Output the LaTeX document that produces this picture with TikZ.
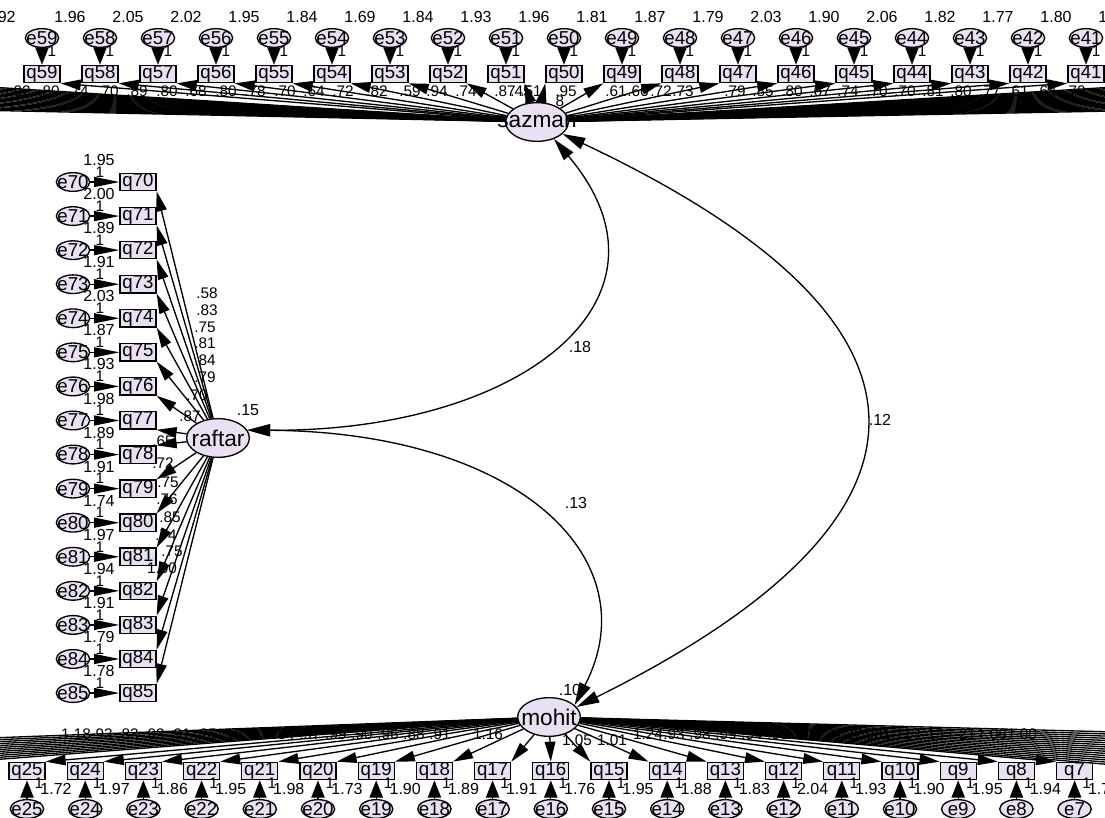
\documentclass[tikz,border=0pt]{standalone}
\usepackage{fontspec}
\setmainfont{Liberation Sans}
\usetikzlibrary{shapes.geometric,arrows.meta,calc}
\definecolor{lav}{RGB}{233,225,243}
\newcommand{\zw}[1]{\makebox[0pt]{#1}}
\begin{document}
\begin{tikzpicture}[x=0.75pt,y=-0.75pt,
  lat/.style={ellipse,draw,fill=lav,line width=1pt,minimum width=47pt,minimum height=29pt,inner sep=0pt,font=\fontsize{17}{17}\selectfont},
  err/.style={ellipse,draw,fill=lav,line width=1pt,minimum width=25pt,minimum height=14pt,inner sep=0pt,font=\fontsize{14}{14}\selectfont},
  obs/.style={rectangle,draw,fill=lav,line width=1pt,minimum width=27pt,minimum height=13pt,inner sep=0pt,font=\fontsize{14}{14}\selectfont},
  lbl/.style={inner sep=0pt,font=\fontsize{11.5}{11.5}\selectfont},
  vlbl/.style={inner sep=0pt,font=\fontsize{12}{12}\selectfont},
  ld/.style={line width=1pt,-{Triangle[length=15pt,width=8pt]}},
  ea/.style={line width=1pt,-{Triangle[length=13pt,width=10pt]}},
  eal/.style={line width=1pt,-{Triangle[length=19pt,width=7.5pt]}},
  bl/.style={line width=1pt},
  cov/.style={line width=1pt,{Triangle[length=17pt,width=9pt]}-{Triangle[length=17pt,width=9pt]}}
]
\useasboundingbox (0,0) rectangle (1105,817);
\fill[white] (0,0) rectangle (1105,817);
\clip (0,0) rectangle (1105,817);

% ---------- latent variables
\node[lat] (sazman) at (537,122) {\zw{sazman}};
\node[lat] (raftar) at (218,438) {\zw{raftar}};
\node[lat] (mohit) at (549,717) {\zw{mohit}};

% ---------- top row (sazman)
\foreach \n [count=\k from 0] in {59,58,...,41}{
  \pgfmathsetmacro\xx{42+58*\k}
  \node[err] (e\n) at (\xx,38) {\zw{e\n}};
  \node[obs] (q\n) at (\xx,74) {\zw{q\n}};
  \node[lbl] (one\n) at (\xx+10,51) {1};
}
\node[vlbl] (tv0) at (0,17) {1.92};
\foreach \v [count=\k] in {1.96,2.05,2.02,1.95,1.84,1.69,1.84,1.93,1.96,1.81,1.87,1.79,2.03,1.90,2.06,1.82,1.77,1.80,1.81}{
  \node[vlbl] (tv\k) at (12+58*\k,17) {\v};
}
\foreach \x/\t [count=\k] in {20/.02,49/.80,78/.74,108/.70,137/.89,167/.80,196/.68,226/.80,255/.78,285/.70,314/.64,343/.72,377/.82,410/.59,437/.94,466/.74,505/.87,521/.45,531/.51,566/.95,616/.61,638/.66,661/.72,683/.73,735/.79,763/.85,792/.80,820/.67,848/.74,877/.70,905/.70,933/.81,961/.80,990/.77,1018/.61,1046/.64,1075/.70}{
  \node[lbl] (tl\k) at (\x,91) {\t};
}
\node[lbl] (tl8) at (560,101) {8};

% ---------- left column (raftar)
\foreach \n [count=\k from 0] in {70,...,85}{
  \pgfmathsetmacro\yy{182+34.07*\k}
  \node[err] (e\n) at (73,\yy) {\zw{e\n}};
  \node[obs] (q\n) at (138,\yy) {\zw{q\n}};
  \node[lbl] (one\n) at (100,\yy-10) {1};
}
\foreach \v [count=\k from 0] in {1.95,2.00,1.89,1.91,2.03,1.87,1.93,1.98,1.89,1.91,1.74,1.97,1.94,1.91,1.79,1.78}{
  \node[vlbl] (lv\k) at (99,160+34.07*\k) {\v};
}
\foreach \y/\x/\t [count=\k] in {293/207/.58,310/207/.83,327/205/.75,343/205/.81,360/205/.84,377/205/.79,395/197/.70,416/190/.87,441/163/.65,463/163/.72,482/168/.75,499/167/.76,517/170/.85,535/166/.74,551/172/.75,568/162/1.00}{
  \node[lbl] (ll\k) at (\x,\y) {\t};
}

% ---------- bottom row (mohit)
\foreach \n [count=\k from 0] in {25,24,...,7}{
  \pgfmathsetmacro\xx{27+58.2*\k}
  \node[obs] (q\n) at (\xx,771) {\zw{q\n}};
  \node[err] (e\n) at (\xx,809) {\zw{e\n}};
  \node[lbl] (one\n) at (\xx+12,783) {1};
}
\foreach \v [count=\k from 0] in {1.72,1.97,1.86,1.95,1.98,1.73,1.90,1.89,1.91,1.76,1.95,1.88,1.83,2.04,1.93,1.90,1.95,1.94,1.77}{
  \node[vlbl] (bv\k) at (56+58.2*\k,789) {\v};
}
\node[vlbl] (bvx) at (-15,789) {1.80};
\foreach \x/\t [count=\k] in {76/1.18,102/.93,128/.83,154/.03,180/.91,206/.25,232/.15,258/.93,284/.84,310/.97,336/.99,362/.90,388/.96,414/.88,440/.91,488/1.16,648/1.24,674/.93,700/.98,726/.99,752/.94,778/.98,800/1.41,828/1.21,852/.22,872/.98,897/1.11,929/1.13,961/1.21,992/1.06,1022/1.00}{
  \node[lbl] (bl\k) at (\x,734) {\t};
}
\node[lbl] (blA) at (577,740) {1.05};
\node[lbl] (blB) at (612,740) {1.01};

% ---------- latent variances and covariance labels
\node[vlbl] (vr) at (248,410) {.15};
\node[vlbl] (vm) at (570,690) {.10};
\node[vlbl] (c1) at (580,347) {.18};
\node[vlbl] (c2) at (576,503) {.13};
\node[vlbl] (c3) at (880,420) {.12};

% ---------- connectors: error terms
\foreach \n in {59,58,...,41} \draw[ea] (e\n) -- (q\n);
\foreach \n in {70,...,85} \draw[eal] (e\n) -- (q\n);
\foreach \n in {25,24,...,7} \draw[ea] (e\n) -- (q\n);

% ---------- connectors: sazman loadings
\foreach \n in {59,58,...,51} \draw[ld] (sazman) -- (q\n.south east);
\foreach \n in {50,49,...,41} \draw[ld] (sazman) -- (q\n.south west);
\foreach \j in {0,...,18}{
  \coordinate (sl\j) at (-10,87+1.3*\j);
  \draw[bl] (sazman) -- (sl\j);
}
\foreach \j in {0,...,20}{
  \coordinate (sr\j) at (1115,87+1.2*\j);
  \draw[bl] (sazman) -- (sr\j);
}

% ---------- connectors: raftar loadings
\foreach \n in {70,...,77} \draw[ld] (raftar) -- (q\n.south east);
\foreach \n in {78,...,85} \draw[ld] (raftar) -- (q\n.north east);

% ---------- connectors: mohit loadings
\foreach \n in {25,24,...,17} \draw[ld] (mohit) -- (q\n.north east);
\draw[ld] (mohit) -- (q16.north);
\foreach \n in {15,14,...,7} \draw[ld] (mohit) -- (q\n.north west);
\foreach \j in {0,...,11}{
  \coordinate (ml\j) at (-10,738+2*\j);
  \draw[bl] (mohit) -- (ml\j);
}
\foreach \j in {0,...,15}{
  \coordinate (mr\j) at (1115,732+2.2*\j);
  \draw[bl] (mohit) -- (mr\j);
}

% ---------- covariances
\draw[cov] (raftar.15) .. controls (520,432) and (690,300) .. (sazman.-45);
\draw[cov] (raftar.15) .. controls (520,432) and (650,560) .. (mohit.25);
\draw[cov] (sazman.-25) .. controls (962,322) and (962,516) .. (mohit.20);
\end{tikzpicture}
\end{document}
